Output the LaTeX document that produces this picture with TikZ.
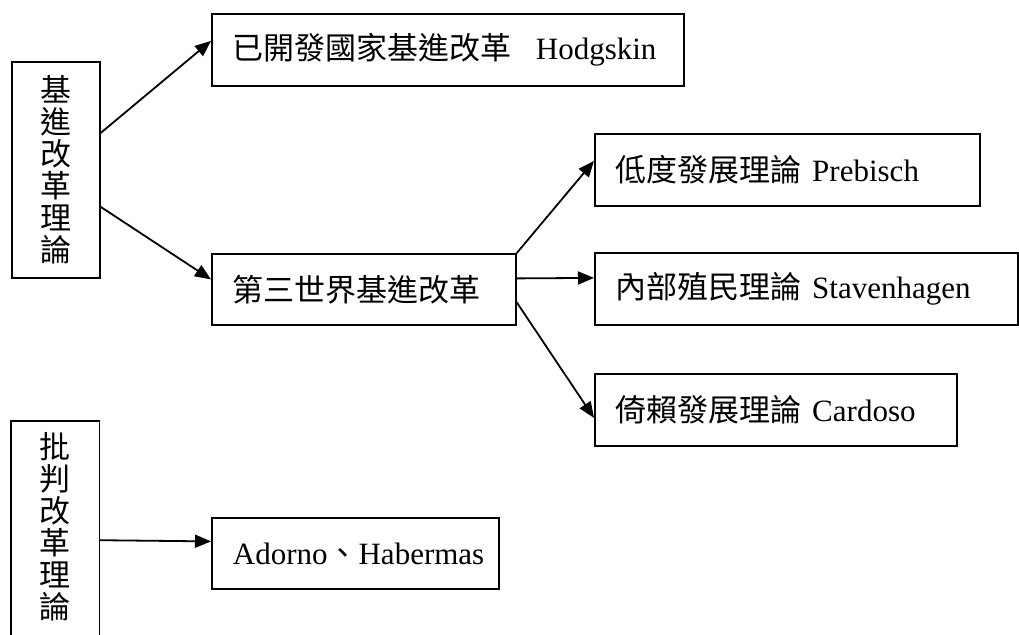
\documentclass[tikz,border=0pt]{standalone}
\usepackage{fontspec}
\setmainfont{Liberation Serif}
\newfontfamily\cjk{Noto Sans CJK TC}
\usetikzlibrary{arrows.meta,calc}
\begin{document}
\begin{tikzpicture}[x=1pt,y=-1pt,
  font=\fontsize{31}{32}\selectfont,
  box/.style={draw,line width=1.8pt,anchor=north west,inner xsep=21pt,inner ysep=0pt,minimum height=72pt,align=left},
  vbox/.style={anchor=north west,minimum width=88pt,inner sep=0pt,align=center,font=\cjk\fontsize{31}{32}\selectfont},
  arr/.style={line width=1.8pt,-{Triangle[length=16pt,width=13pt]}}]
\clip (0,0) rectangle (1019,634);
\fill[white] (0,0) rectangle (1019,634);
% left column
\node[vbox,draw,line width=1.8pt,minimum height=216pt] (A) at (11,61) {基\\進\\改\\革\\理\\論};
\node[vbox,minimum height=212pt] (B) at (11,421) {批\\判\\改\\革\\理\\論};
\draw[line width=1.8pt] ($(B.south west)+(0,-6pt)$) -- (B.north west) -- (B.north east) -- ($(B.south east)+(0,-6pt)$);
% boxes
\node[box,text width=430pt] (T) at (211,13) {{\cjk 已開發國家基進改革}\hspace{24pt}Hodgskin};
\node[box,text width=262pt,minimum height=71pt] (W) at (211,253) {{\cjk 第三世界基進改革}};
\node[box,text width=343pt] (L) at (594,133) {{\cjk 低度發展理論} Prebisch};
\node[box,text width=381pt] (N) at (594,252) {{\cjk 內部殖民理論} Stavenhagen};
\node[box,text width=320pt] (D) at (594,373) {{\cjk 倚賴發展理論} Cardoso};
\node[box,text width=245pt,minimum height=71pt] (H) at (211,517) {Adorno{\cjk 、}Habermas};
% connectors
\draw[arr] ($(A.north east)!0.33!(A.south east)$) -- ($(T.west)+(0,9pt)$);
\draw[arr] ($(A.north east)!0.67!(A.south east)$) -- ($(W.west)+(0,10pt)$);
\draw[arr] (W.north east) -- ($(L.west)+(0,9pt)$);
\draw[arr] ($(W.east)+(0,11pt)$) -- ($(N.west)+(0,11pt)$);
\draw[arr] ($(W.east)+(0,-13pt)$) -- ($(D.west)+(0,-8pt)$);
\draw[arr] ($(B.east)+(0,-13pt)$) -- ($(H.west)+(0,12pt)$);
\end{tikzpicture}
\end{document}
